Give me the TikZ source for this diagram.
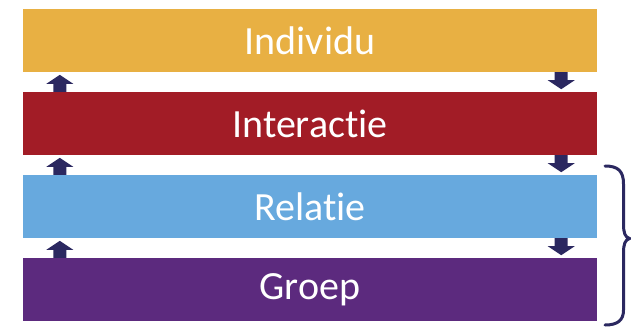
\documentclass[tikz,border=0pt]{standalone}
\usepackage{fontspec}
\setmainfont{Carlito}[RawFeature={-liga;-dlig;-clig}]
\usepackage{xcolor}
\usetikzlibrary{calc}
\definecolor{indcol}{HTML}{E8B043}
\definecolor{intcol}{HTML}{A21C26}
\definecolor{relcol}{HTML}{67A9DE}
\definecolor{grpcol}{HTML}{5C2A7E}
\definecolor{navy}{HTML}{2B2860}
\tikzset{
  bar/.style={minimum width=574pt, minimum height=63pt, inner sep=0pt,
    text=white, font=\fontsize{40}{46}\selectfont},
  flowarrow/.pic={
    \fill[navy] (-6.5,0) -- (-6.5,8) -- (-13.5,8) -- (0,17) -- (13.5,8) -- (6.5,8) -- (6.5,0) -- cycle;
  }
}
\begin{document}
\begin{tikzpicture}[x=1pt,y=1pt]
\useasboundingbox (0,0) rectangle (631,-327);
% layers
\node[bar, fill=indcol] (ind) at (310,-40.5) {Individu};
\node[bar, fill=intcol] (inter) at (310,-123.5) {Interactie};
\node[bar, fill=relcol] (rel) at (310,-206.5) {Relatie};
\node[bar, fill=grpcol] (grp) at (310,-289.5) {Groep};
% arrows up (left) and down (right)
\pic at ($(inter.north west)+(37,0)$) {flowarrow};
\pic at ($(rel.north west)+(37,0)$) {flowarrow};
\pic at ($(grp.north west)+(37,0)$) {flowarrow};
\pic[rotate=180] at ($(ind.south east)+(-36,0)$) {flowarrow};
\pic[rotate=180] at ($(inter.south east)+(-36,0)$) {flowarrow};
\pic[rotate=180] at ($(rel.south east)+(-36,0)$) {flowarrow};
% brace
\draw[navy, line width=3pt, line cap=round]
  (605,-166) .. controls (618,-166) and (623.5,-171) .. (623.5,-184) -- (623.5,-224)
  .. controls (623.5,-233) and (625,-237) .. (629.5,-238.5)
  .. controls (625,-240) and (623.5,-244) .. (623.5,-253) -- (623.5,-310)
  .. controls (623.5,-320) and (618,-325) .. (605,-325);
\end{tikzpicture}
\end{document}
